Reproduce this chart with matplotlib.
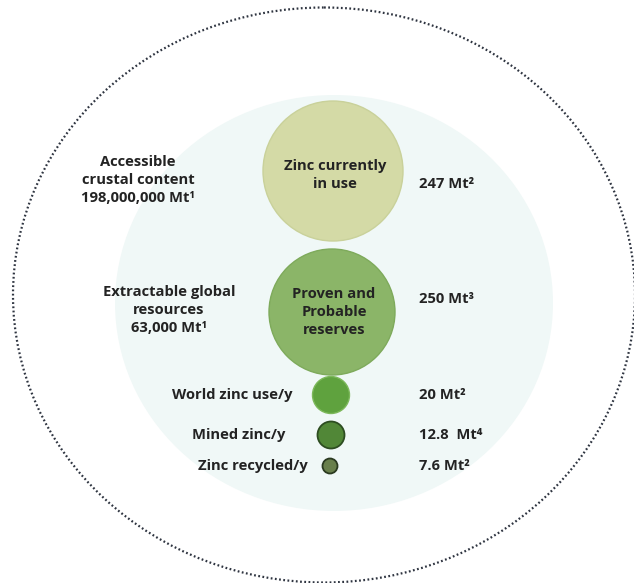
import matplotlib
matplotlib.use("Agg")
import matplotlib.pyplot as plt
from matplotlib.patches import Ellipse, Circle

plt.rcParams['font.family'] = ['Open Sans', 'DejaVu Sans']

# --- data ---
stock_names = ["Zinc currently\nin use", "Proven and\nProbable\nreserves",
               "World zinc use/y", "Mined zinc/y", "Zinc recycled/y"]
stock_mt = ["247", "250", "20", "12.8 ", "7.6"]
stock_refs = ["²", "³", "²", "⁴", "²"]
context_names = ["Accessible\ncrustal content", "Extractable global\nresources"]
context_mt = ["198,000,000", "63,000"]
context_refs = ["¹", "¹"]

# --- layout (pixel coords of the 634x583 canvas) ---
bubble_xy = [(333, 171), (332, 312), (331, 395), (331, 435), (330, 466)]
bubble_r = [70, 63, 18.5, 13.5, 7.5]
bubble_fc = ["#d4daa6", "#8bb568", "#5fa23e", "#518737", "#687f4b"]
bubble_ec = ["#c9d19a", "#7eaa5b", "#7cb85a", "#2d4d21", "#2a3a20"]
context_xy = [(138, 180), (169, 310)]
value_x = 419
side_x = [None, None, 292, 285, 308]

TXT = "#232323"
FS = 10.6

fig = plt.figure(figsize=(6.34, 5.83), dpi=100)
ax = fig.add_axes([0, 0, 1, 1])
ax.set_xlim(0, 634); ax.set_ylim(583, 0); ax.axis("off")

# outer dotted boundary and faint inner disc
ax.add_patch(Ellipse((324, 295), 622, 575, fill=False, ec="#2e3440",
                     lw=1.6, ls=(0, (0.8, 1.1))))
ax.add_patch(Ellipse((334, 303), 438, 416, fc="#f0f8f7", ec="none"))

for i, name in enumerate(stock_names):
    (x, y), r = bubble_xy[i], bubble_r[i]
    ax.add_patch(Circle((x, y), r, fc=bubble_fc[i], ec=bubble_ec[i],
                        lw=1.3 if i >= 3 else 1.0, zorder=3))
    if side_x[i] is None:
        ty = y + 4 if i == 0 else y
        ax.text(x + 2, ty, name, ha="center", va="center", multialignment="center",
                fontsize=FS, fontweight="bold", color=TXT, linespacing=1.4, zorder=4)
        vy = 184 if i == 0 else 299
    else:
        ax.text(side_x[i], y, name, ha="right", va="center",
                fontsize=FS, fontweight="bold", color=TXT, zorder=4)
        vy = y
    ax.text(value_x, vy, f"{stock_mt[i]} Mt{stock_refs[i]}", ha="left", va="center",
            fontsize=FS, fontweight="bold", color=TXT, zorder=4)

for i, name in enumerate(context_names):
    x, y = context_xy[i]
    ax.text(x, y, f"{name}\n{context_mt[i]} Mt{context_refs[i]}", ha="center",
            va="center", multialignment="center", fontsize=FS, fontweight="bold",
            color=TXT, linespacing=1.4)

fig.savefig("out.png", dpi=100)
